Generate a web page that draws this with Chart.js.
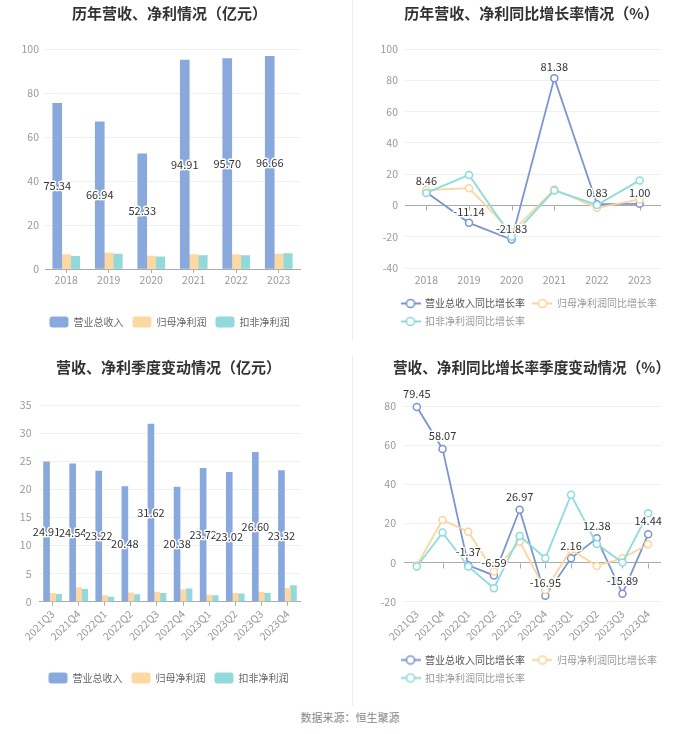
<!DOCTYPE html>
<html><head><meta charset="utf-8">
<script src="https://cdn.jsdelivr.net/npm/chart.js@4.4.1/dist/chart.umd.min.js"></script>
<style>
html,body{margin:0;padding:0;background:#fff;}
body{width:700px;height:734px;position:relative;overflow:hidden;font-family:"Noto Sans CJK SC",sans-serif;}
canvas{position:absolute;}
.vline{position:absolute;width:1px;background:#eeeeee;left:352px;}
#src{position:absolute;left:0;width:700px;top:709px;text-align:center;font-size:11px;color:#888;line-height:16px;}
</style></head><body>
<div class="vline" style="top:0;height:340px"></div>
<div class="vline" style="top:356px;height:350px"></div>
<canvas id="c1" width="350" height="340" style="left:0;top:0"></canvas>
<canvas id="c2" width="345" height="340" style="left:355px;top:0"></canvas>
<canvas id="c3" width="350" height="340" style="left:0;top:354px"></canvas>
<canvas id="c4" width="345" height="340" style="left:355px;top:354px"></canvas>
<div id="src">数据来源：恒生聚源</div>
<script>
// ---------- data ----------
const years = ['2018', '2019', '2020', '2021', '2022', '2023'];
const revenue = [75.34, 66.94, 52.33, 94.91, 95.70, 96.66];
const netProfit = [6.5, 7.3, 5.9, 6.5, 6.5, 6.8];
const deductProfit = [5.8, 6.8, 5.5, 6.1, 6.1, 7.0];

const revGrowth = [8.46, -11.14, -21.83, 81.38, 0.83, 1.00];
const netGrowth = [9.8, 11.0, -17.0, 10.2, -1.5, 3.8];
const deductGrowth = [8.0, 19.5, -20.0, 9.6, 0.3, 16.0];

const quarters = ['2021Q3', '2021Q4', '2022Q1', '2022Q2', '2022Q3', '2022Q4', '2023Q1', '2023Q2', '2023Q3', '2023Q4'];
const qRevenue = [24.91, 24.54, 23.22, 20.48, 31.62, 20.38, 23.72, 23.02, 26.60, 23.32];
const qNet = [1.5, 2.5, 1.1, 1.6, 1.7, 2.1, 1.2, 1.5, 1.7, 2.4];
const qDeduct = [1.3, 2.2, 0.8, 1.25, 1.5, 2.3, 1.1, 1.4, 1.5, 2.85];

const qRevGrowth = [79.45, 58.07, -1.37, -6.59, 26.97, -16.95, 2.16, 12.38, -15.89, 14.44];
const qNetGrowth = [-1.5, 21.8, 15.8, -4.6, 10.7, -14.0, 6.5, -1.7, 2.2, 9.4];
const qDeductGrowth = [-2.0, 15.3, -2.0, -13.1, 13.6, 2.2, 34.6, 9.5, 0.0, 25.2];

const seriesNames = ['营业总收入', '归母净利润', '扣非净利润'];
const growthNames = ['营业总收入同比增长率', '归母净利润同比增长率', '扣非净利润同比增长率'];
const titles = ['历年营收、净利情况（亿元）', '历年营收、净利同比增长率情况（%）', '营收、净利季度变动情况（亿元）', '营收、净利同比增长率季度变动情况（%）'];

// ---------- styles ----------
const FONT = '"Noto Sans CJK SC", "Noto Sans", sans-serif';
const TICK_SIZE = 10.5;
const barColors = ['#89a9dc', '#fdd8a3', '#92d9dc'];
const lineColors = ['#7c96d1', '#fdd49b', '#8ddbe0'];
const legendTextColors = ['#555', '#999', '#999'];
Chart.defaults.font.family = FONT;
Chart.defaults.animation = false;

const fixW = w => s => { s.width = w; };
const fixH = h => s => { s.height = h; };

function widestTick(min, max, step) {
  const g = document.createElement('canvas').getContext('2d');
  g.font = TICK_SIZE + 'px ' + FONT;
  let w = 0;
  for (let v = min; v <= max; v += step) w = Math.max(w, g.measureText(String(v)).width);
  return w;
}

const valueLabels = {
  id: 'valueLabels',
  afterDatasetsDraw(chart, args, opts) {
    const ctx = chart.ctx;
    const meta = chart.getDatasetMeta(0);
    const data = chart.data.datasets[0].data;
    ctx.save();
    ctx.font = '11px ' + FONT;
    ctx.textAlign = 'center';
    ctx.textBaseline = 'middle';
    ctx.lineJoin = 'round';
    meta.data.forEach((el, i) => {
      const txt = Number(data[i]).toFixed(2);
      const x = el.x;
      const y = opts.mode === 'bar' ? (el.y + el.base) / 2 : el.y - opts.offset;
      ctx.lineWidth = 3;
      ctx.strokeStyle = '#fff';
      ctx.strokeText(txt, x, y);
      ctx.fillStyle = '#333';
      ctx.fillText(txt, x, y);
    });
    ctx.restore();
  }
};

const zeroTicks = {
  id: 'zeroTicks',
  beforeDatasetsDraw(chart) {
    const ctx = chart.ctx, xs = chart.scales.x, ys = chart.scales.y;
    const y0 = Math.round(ys.getPixelForValue(0)) + 0.5;
    ctx.save();
    ctx.strokeStyle = '#aaa';
    ctx.lineWidth = 1;
    ctx.beginPath();
    chart.data.labels.forEach((l, i) => {
      const px = Math.round(xs.getPixelForValue(i)) + 0.5;
      ctx.moveTo(px, y0);
      ctx.lineTo(px, y0 + 5);
    });
    ctx.stroke();
    ctx.restore();
  }
};

function makeIcon(color) {
  const c = document.createElement('canvas');
  c.width = 20; c.height = 11;
  const g = c.getContext('2d');
  g.strokeStyle = color;
  g.lineWidth = 2;
  g.beginPath(); g.moveTo(0, 5.5); g.lineTo(20, 5.5); g.stroke();
  g.beginPath(); g.arc(10, 5.5, 4, 0, Math.PI * 2);
  g.fillStyle = '#fff'; g.fill();
  g.lineWidth = 1.6; g.stroke();
  return c;
}
const icons = lineColors.map(makeIcon);

function titleOpts(text, gap) {
  return { display: true, text, color: '#333', font: { size: 15, weight: 'bold', family: FONT }, padding: { top: 4, bottom: gap } };
}

function dummyRight(w) {
  return { position: 'right', display: true, grid: { display: false }, border: { display: false }, ticks: { display: false }, afterFit: fixW(w) };
}

function barChart(id, cfg) {
  return new Chart(document.getElementById(id), {
    type: 'bar',
    data: {
      labels: cfg.labels,
      datasets: cfg.series.map((d, i) => ({
        label: seriesNames[i], data: d, backgroundColor: barColors[i], borderWidth: 0,
        barThickness: cfg.barW, categoryPercentage: cfg.catPct
      }))
    },
    options: {
      responsive: false, devicePixelRatio: 1, animation: false, events: [],
      layout: { padding: cfg.pad },
      plugins: {
        title: titleOpts(cfg.title, cfg.titleGap),
        legend: { position: 'bottom', labels: { boxWidth: 19, boxHeight: 11, useBorderRadius: true, borderRadius: 3, padding: 9, color: '#666', font: { size: 10, family: FONT } } },
        tooltip: { enabled: false },
        valueLabels: { mode: 'bar' }
      },
      scales: {
        x: {
          offset: true,
          grid: { display: true, drawOnChartArea: false, drawTicks: true, tickLength: 4, offset: false, color: '#aaa' },
          border: { display: true, color: '#aaa' },
          ticks: { color: '#999', font: { size: TICK_SIZE }, padding: cfg.xPad, autoSkip: false, maxRotation: cfg.rot, minRotation: cfg.rot },
          afterFit: fixH(cfg.xH)
        },
        y: {
          min: 0, max: cfg.yMax,
          ticks: { stepSize: cfg.step, color: '#999', font: { size: TICK_SIZE }, padding: cfg.yPad },
          grid: { color: '#eef0f4', drawTicks: false },
          border: { display: false },
          afterFit: fixW(cfg.yW)
        },
        yR: dummyRight(cfg.rW)
      }
    },
    plugins: [valueLabels]
  });
}

function lineChart(id, cfg) {
  const widest = widestTick(cfg.yMin, cfg.yMax, 20);
  return new Chart(document.getElementById(id), {
    type: 'line',
    data: {
      labels: cfg.labels,
      datasets: cfg.series.map((d, i) => ({
        label: growthNames[i], data: d, borderColor: lineColors[i], backgroundColor: '#fff',
        borderWidth: 1.8, pointRadius: 3.5, pointBorderWidth: 1.5, pointBackgroundColor: '#fff',
        pointBorderColor: lineColors[i], tension: 0, clip: false, order: 3 - i
      }))
    },
    options: {
      responsive: false, devicePixelRatio: 1, animation: false, events: [],
      layout: { padding: cfg.pad },
      plugins: {
        title: titleOpts(cfg.title, cfg.titleGap),
        legend: {
          position: 'bottom', align: 'start',
          labels: {
            usePointStyle: true, pointStyleWidth: 19, padding: 8, color: '#888', font: { size: 10, family: FONT },
            sort: (a, b) => a.datasetIndex - b.datasetIndex,
            generateLabels(chart) {
              const items = Chart.defaults.plugins.legend.labels.generateLabels(chart);
              items.forEach(it => { it.pointStyle = icons[it.datasetIndex]; it.fontColor = legendTextColors[it.datasetIndex]; });
              return items;
            }
          }
        },
        tooltip: { enabled: false },
        valueLabels: { mode: 'line', offset: cfg.labOff }
      },
      scales: {
        x: {
          offset: true,
          grid: { display: false, drawTicks: false }, border: { display: false },
          ticks: { color: '#999', font: { size: TICK_SIZE }, padding: cfg.xPad, autoSkip: false, maxRotation: cfg.rot, minRotation: cfg.rot },
          afterFit: fixH(cfg.xH)
        },
        y: {
          min: cfg.yMin, max: cfg.yMax,
          ticks: { stepSize: 20, color: '#999', font: { size: TICK_SIZE }, mirror: true, crossAlign: 'far', padding: -(widest + cfg.yPad) },
          grid: { drawTicks: false, color: c => (c.tick && c.tick.value === 0 ? '#aaa' : '#eef0f4') },
          border: { display: false },
          afterFit: fixW(cfg.yW)
        },
        yR: dummyRight(cfg.rW)
      }
    },
    plugins: [valueLabels, zeroTicks]
  });
}

barChart('c1', {
  labels: years, series: [revenue, netProfit, deductProfit], title: titles[0],
  pad: { left: 0, right: 11, top: 0, bottom: 2.5 }, titleGap: 27,
  yW: 45, rW: 39, yPad: 6, yMax: 100, step: 20, xH: 38.5, xPad: 1, rot: 0,
  barW: 9, catPct: 0.8
});

lineChart('c2', {
  labels: years, series: [revGrowth, netGrowth, deductGrowth], title: titles[1],
  pad: { left: 38, right: 30, top: 0, bottom: 3.5 }, titleGap: 27,
  yW: 12, rW: 9, yPad: 7, yMin: -40, yMax: 100, xH: 22.5, xPad: 5.7, rot: 0, labOff: 11
});

barChart('c3', {
  labels: quarters, series: [qRevenue, qNet, qDeduct], title: titles[2],
  pad: { left: 0, right: 13, top: 0, bottom: 0.5 }, titleGap: 29,
  yW: 39.5, rW: 36.5, yPad: 8, yMax: 35, step: 5, xH: 61.8, xPad: 2, rot: 45,
  barW: 6, catPct: 0.8
});

lineChart('c4', {
  labels: quarters, series: [qRevGrowth, qNetGrowth, qDeductGrowth], title: titles[3],
  pad: { left: 38, right: 30, top: 0, bottom: 1 }, titleGap: 30,
  yW: 11, rW: 9, yPad: 8, yMin: -20, yMax: 80, xH: 45.3, xPad: 6, rot: 45, labOff: 13
});
</script>
</body></html>
